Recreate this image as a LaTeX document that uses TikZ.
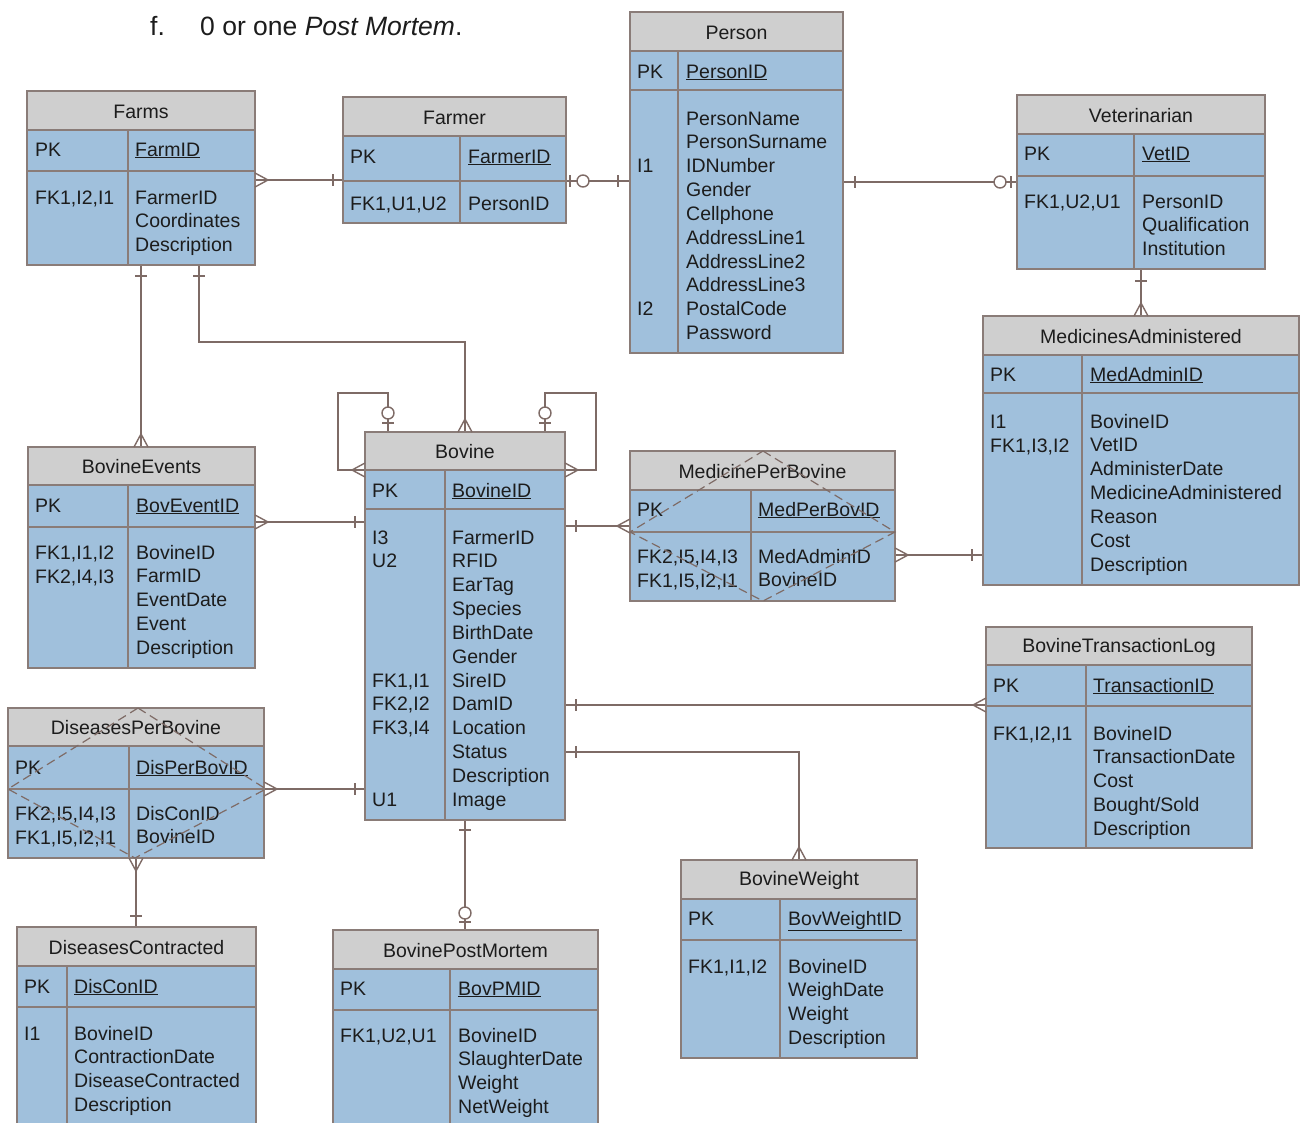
\documentclass[tikz,border=0pt]{standalone}
\usepackage{fontspec}
\setmainfont{Liberation Sans}
\definecolor{hdrc}{HTML}{CFCFCF}
\definecolor{bodyc}{HTML}{A0C0DC}
\definecolor{bdc}{HTML}{8A7C78}
\definecolor{lnc}{HTML}{7E6B66}
\definecolor{txc}{HTML}{1C1C1C}
\tikzset{
  bd/.style={draw=bdc, line width=1.2pt},
  ln/.style={draw=lnc, line width=1.4pt},
  ebox/.style={draw=bdc, line width=1.2pt, inner sep=0pt, outer sep=0pt},
  ttl/.style={font=\fontsize{19.5}{23}\selectfont, text=txc, inner sep=0pt},
  fld/.style={font=\fontsize{19.5}{23}\selectfont, text=txc, inner sep=0pt, anchor=base west},
  dia/.style={draw=lnc, line width=1.2pt, dash pattern=on 9pt off 5pt},
}
\newcommand\ent[9]{%
  \fill[hdrc] (#2,#4) rectangle (#3,#5);
  \fill[bodyc] (#2,#5) rectangle (#3,#7);
  \draw[bd] (#2,#5) -- (#3,#5) (#2,#6) -- (#3,#6) (#8,#5) -- (#8,#7);
  \node[ebox, minimum width={(#3-#2)*1pt}, minimum height={(#7-#4)*1pt}, anchor=north west] (#1) at (#2,#4) {};
  \node[ttl] (#1-t) at ({(#2+#3)/2},{(#4+#5)/2+1}) {#9};
}
\newcommand\flds[4]{\foreach \t [count=\i] in {#4} {\node[fld] (#1-\i) at (#2,{#3+(\i-1)*23.85}) {\t};}}
\newcommand\ky[4]{\node[fld] (#1) at (#2,#3) {#4};}
\newcommand\tickV[2]{\draw[ln] (#1,#2-6) -- (#1,#2+6);}
\newcommand\tickH[2]{\draw[ln] (#1-6,#2) -- (#1+6,#2);}
\newcommand\crowR[2]{\draw[ln] (#1,#2-7) -- (#1+13,#2) -- (#1,#2+7);}
\newcommand\crowL[2]{\draw[ln] (#1,#2-7) -- (#1-13,#2) -- (#1,#2+7);}
\newcommand\crowU[2]{\draw[ln] (#1-7,#2) -- (#1,#2-13) -- (#1+7,#2);}
\newcommand\crowD[2]{\draw[ln] (#1-7,#2) -- (#1,#2+13) -- (#1+7,#2);}
\newcommand\circO[2]{\draw[ln, fill=white] (#1,#2) circle[radius=6pt];}
\begin{document}
\begin{tikzpicture}[x=1pt, y=-1pt]
\useasboundingbox (0,0) rectangle (1301,1122);
\fill[white] (0,0) rectangle (1301,1122);

% heading
\node[fld, font=\fontsize{26.5}{31}\selectfont] (hdgf) at (150,35) {f.};
\node[fld, font=\fontsize{26.5}{31}\selectfont] (hdg) at (200,35) {0 or one \textit{Post Mortem}.};

% ---------- connectors (drawn first) ----------
\draw[ln] (255,180) -- (343,180);
\draw[ln] (566,181) -- (630,181);
\draw[ln] (843,182) -- (1017,182);
\draw[ln] (1141,269) -- (1141,316);
\draw[ln] (141,265) -- (141,447);
\draw[ln] (199,265) -- (199,342) -- (465,342) -- (465,432);
\draw[ln] (388,432) -- (388,393) -- (338,393) -- (338,470) -- (365,470);
\draw[ln] (545,432) -- (545,393) -- (596,393) -- (596,470) -- (565,470);
\draw[ln] (255,522) -- (365,522);
\draw[ln] (565,526) -- (630,526);
\draw[ln] (895,555) -- (983,555);
\draw[ln] (565,705) -- (986,705);
\draw[ln] (565,752) -- (799,752) -- (799,860);
\draw[ln] (264,789) -- (365,789);
\draw[ln] (136,858) -- (136,927);
\draw[ln] (465,820) -- (465,930);

% ---------- entities ----------
\ent{farms}{27}{255}{91}{130}{171}{265}{128}{Farms}
\ky{farms-pk}{35}{156}{PK}
\node[fld] (farms-id) at (135,156) {\underline{FarmID}};
\ky{farms-k1}{35}{204}{FK1,I2,I1}
\flds{farms-f}{135}{204}{FarmerID,Coordinates,Description}

\ent{farmer}{343}{566}{97}{136}{181}{223}{460}{Farmer}
\ky{farmer-pk}{350}{163}{PK}
\node[fld] (farmer-id) at (468,163) {\underline{FarmerID}};
\ky{farmer-k1}{350}{210}{FK1,U1,U2}
\flds{farmer-f}{468}{210}{PersonID}

\ent{person}{630}{843}{12}{51}{90}{353}{678}{Person}
\ky{person-pk}{637}{78}{PK}
\node[fld] (person-id) at (686,78) {\underline{PersonID}};
\ky{person-k1}{637}{172.7}{I1}
\ky{person-k2}{637}{315.8}{I2}
\flds{person-f}{686}{125}{PersonName,PersonSurname,IDNumber,Gender,Cellphone,AddressLine1,AddressLine2,AddressLine3,PostalCode,Password}

\ent{vet}{1017}{1265}{95}{134}{176}{269}{1134}{Veterinarian}
\ky{vet-pk}{1024}{160}{PK}
\node[fld] (vet-id) at (1142,160) {\underline{VetID}};
\ky{vet-k1}{1024}{208}{FK1,U2,U1}
\flds{vet-f}{1142}{208}{PersonID,Qualification,Institution}

\ent{ma}{983}{1299}{316}{355}{393}{585}{1082}{MedicinesAdministered}
\ky{ma-pk}{990}{381}{PK}
\node[fld] (ma-id) at (1090,381) {\underline{MedAdminID}};
\ky{ma-k1}{990}{428}{I1}
\ky{ma-k2}{990}{452}{FK1,I3,I2}
\flds{ma-f}{1090}{428}{BovineID,VetID,AdministerDate,MedicineAdministered,Reason,Cost,Description}

\ent{be}{28}{255}{447}{485}{527}{668}{128}{BovineEvents}
\ky{be-pk}{35}{512}{PK}
\node[fld] (be-id) at (136,512) {\underline{BovEventID}};
\ky{be-k1}{35}{559}{FK1,I1,I2}
\ky{be-k2}{35}{583}{FK2,I4,I3}
\flds{be-f}{136}{559}{BovineID,FarmID,EventDate,Event,Description}

\ent{bov}{365}{565}{432}{470}{509}{820}{445}{Bovine}
\ky{bov-pk}{372}{497}{PK}
\node[fld] (bov-id) at (452,497) {\underline{BovineID}};
\ky{bov-k1}{372}{544}{I3}
\ky{bov-k2}{372}{567.85}{U2}
\ky{bov-k3}{372}{687.1}{FK1,I1}
\ky{bov-k4}{372}{710.9}{FK2,I2}
\ky{bov-k5}{372}{734.8}{FK3,I4}
\ky{bov-k6}{372}{806.3}{U1}
\flds{bov-f}{452}{544}{FarmerID,RFID,EarTag,Species,BirthDate,Gender,SireID,DamID,Location,Status,Description,Image}

\ent{mpb}{630}{895}{451}{490}{532}{601}{751}{MedicinePerBovine}
\ky{mpb-pk}{637}{516}{PK}
\node[fld] (mpb-id) at (758,516) {\underline{MedPerBovID}};
\ky{mpb-k1}{637}{563}{FK2,I5,I4,I3}
\ky{mpb-k2}{637}{587}{FK1,I5,I2,I1}
\flds{mpb-f}{758}{563}{MedAdminID,BovineID}

\ent{dpb}{8}{264}{708}{746}{789}{858}{129}{DiseasesPerBovine}
\ky{dpb-pk}{15}{774}{PK}
\node[fld] (dpb-id) at (136,774) {\underline{DisPerBovID}};
\ky{dpb-k1}{15}{820}{FK2,I5,I4,I3}
\ky{dpb-k2}{15}{844}{FK1,I5,I2,I1}
\flds{dpb-f}{136}{820}{DisConID,BovineID}

\ent{dc}{17}{256}{927}{966}{1007}{1130}{67}{DiseasesContracted}
\ky{dc-pk}{24}{993}{PK}
\node[fld] (dc-id) at (74,993) {\underline{DisConID}};
\ky{dc-k1}{24}{1040}{I1}
\flds{dc-f}{74}{1040}{BovineID,ContractionDate,DiseaseContracted,Description}

\ent{bpm}{333}{598}{930}{969}{1010}{1130}{450}{BovinePostMortem}
\ky{bpm-pk}{340}{995}{PK}
\node[fld] (bpm-id) at (458,995) {\underline{BovPMID}};
\ky{bpm-k1}{340}{1042}{FK1,U2,U1}
\flds{bpm-f}{458}{1042}{BovineID,SlaughterDate,Weight,NetWeight}

\ent{bw}{681}{917}{860}{899}{940}{1058}{780}{BovineWeight}
\ky{bw-pk}{688}{925}{PK}
\node[fld] (bw-id) at (788,925) {\underline{BovWeightID}};
\ky{bw-k1}{688}{973}{FK1,I1,I2}
\flds{bw-f}{788}{973}{BovineID,WeighDate,Weight,Description}

\ent{btl}{986}{1252}{627}{665}{706}{848}{1086}{BovineTransactionLog}
\ky{btl-pk}{993}{692}{PK}
\node[fld] (btl-id) at (1093,692) {\underline{TransactionID}};
\ky{btl-k1}{993}{740}{FK1,I2,I1}
\flds{btl-f}{1093}{740}{BovineID,TransactionDate,Cost,Bought/Sold,Description}

% ---------- dashed diamonds ----------
\draw[dia] (763,451) -- (895,532) -- (763,601) -- (630,532) -- cycle;
\draw[dia] (138,708) -- (266,789) -- (135,858) -- (8,789) -- cycle;

% ---------- connector ends ----------
\crowR{255}{180} \tickV{333}{180}
\tickV{570}{181} \circO{583}{181} \tickV{618}{181}
\tickV{855}{182} \circO{1000}{182} \tickV{1011}{182}
\tickH{1141}{281} \crowU{1141}{316}
\tickH{141}{276} \crowU{141}{447}
\tickH{199}{276} \crowU{465}{432}
\circO{388}{413} \tickH{388}{423} \crowL{365}{470}
\circO{545}{413} \tickH{545}{423} \crowR{565}{470}
\crowR{255}{522} \tickV{355}{522}
\tickV{576}{526} \crowL{630}{526}
\crowR{895}{555} \tickV{972}{555}
\tickV{576}{705} \crowL{986}{705}
\tickV{576}{752} \crowU{799}{860}
\crowR{264}{789} \tickV{355}{789}
\crowD{136}{858} \tickH{136}{916}
\tickH{465}{830} \circO{465}{913} \tickH{465}{922}
\end{tikzpicture}
\end{document}
